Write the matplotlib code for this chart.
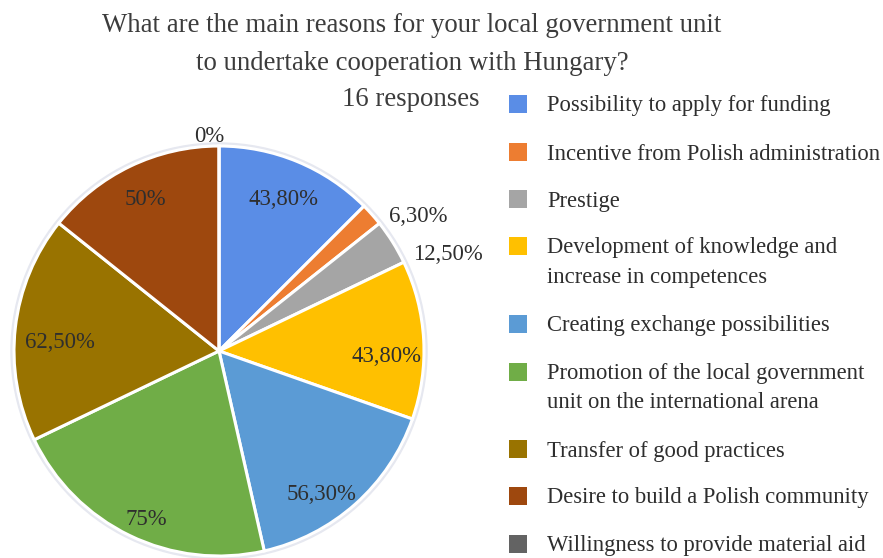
import numpy as np
import matplotlib.pyplot as plt
from matplotlib.patches import Rectangle, Circle

plt.rcParams['font.family'] = ['Liberation Serif', 'DejaVu Serif']

# Share of respondents choosing each reason (%)
reasons = [
    'Possibility to apply for funding',
    'Incentive from Polish administration',
    'Prestige',
    'Development of knowledge and\nincrease in competences',
    'Creating exchange possibilities',
    'Promotion of the local government\nunit on the international arena',
    'Transfer of good practices',
    'Desire to build a Polish community',
    'Willingness to provide material aid',
]
shares = [43.8, 6.3, 12.5, 43.8, 56.3, 75.0, 62.5, 50.0, 0.0]
share_labels = ['43,80%', '6,30%', '12,50%', '43,80%', '56,30%',
                '75%', '62,50%', '50%', '0%']

colors = ['#5A8DE6', '#ED7D31', '#A5A5A5', '#FFC000', '#5B9BD5',
          '#70AD47', '#997300', '#9E480E', '#636363']

TEXT = '#2E2E2E'

fig = plt.figure(figsize=(8.83, 5.58), dpi=100)
W, H = 883, 558

# pie placed by pixel box: centre (219, 351), radius 205
cx, cy, R = 219, 351, 205
pad = 1.03
ax = fig.add_axes([(cx - R * pad) / W, (H - cy - R * pad) / H,
                   2 * R * pad / W, 2 * R * pad / H])

wedges, _ = ax.pie(shares, colors=colors, startangle=90, counterclock=False,
                   radius=1.0,
                   wedgeprops=dict(edgecolor='white', linewidth=2.2))
# faint outer ring around the pie
ax.add_patch(Circle((0, 0), 1.008, facecolor='none', edgecolor='#E6E8F0',
                    lw=3, zorder=0))
ax.set_xlim(-pad, pad)
ax.set_ylim(-pad, pad)
ax.set_aspect('auto')
ax.axis('off')

# label radius (fraction of R) and angular nudge (degrees)
label_r = [0.81, 1.18, 1.215, 0.815, 0.853, 0.89, 0.78, 0.83, 1.055]
label_da = [-0.5, -7.4, -8.9, -4.5, -6.0, 2.3, 2.7, -0.1, 2.7]
total = sum(shares)
cum = 0.0
for i, v in enumerate(shares):
    mid = 90 - (cum + v / 2) / total * 360 + label_da[i]
    cum += v
    a = np.deg2rad(mid)
    ax.text(label_r[i] * np.cos(a), label_r[i] * np.sin(a) - 0.008, share_labels[i],
            ha='center', va='center', fontsize=16.4, color=TEXT, clip_on=False)

# title block
title_kw = dict(ha='center', va='center', fontsize=19.3, color='#3C3C3C')
fig.text(412 / W, 1 - 26 / H, 'What are the main reasons for your local government unit',
         **title_kw)
fig.text(412 / W, 1 - 63 / H, 'to undertake cooperation with Hungary?', **title_kw)
fig.text(411 / W, 1 - 100 / H, '16 responses', **title_kw)

# legend, drawn row by row
row_y = [104, 152, 199, 246, 324, 372, 449, 496, 544]
sq = 18
for name, col, y in zip(reasons, colors, row_y):
    fig.add_artist(Rectangle(((518 - sq / 2) / W, 1 - (y + sq / 2) / H), sq / W, sq / H,
                             transform=fig.transFigure, facecolor=col,
                             edgecolor='none'))
    for k, line in enumerate(name.split('\n')):
        fig.text(547 / W, 1 - (y + 2 + 29 * k) / H, line, ha='left', va='center',
                 fontsize=16.3, color=TEXT)

fig.savefig('out.png', dpi=100, facecolor='white')
